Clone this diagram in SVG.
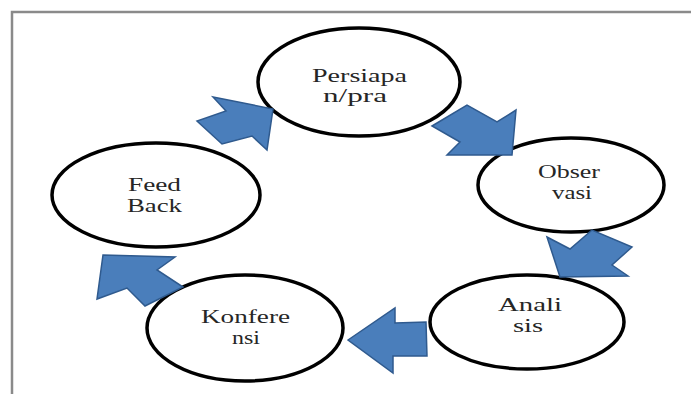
<svg xmlns="http://www.w3.org/2000/svg" width="691" height="394" viewBox="0 0 691 394">
  <style>
    .node ellipse { fill: #ffffff; stroke: #000000; stroke-width: 3.5; }
    .node text { font-family: "Liberation Serif", "DejaVu Serif", serif; font-size: 18px; fill: #262626; }
    .arrow { fill: #4a7ebb; stroke: #2f5a8e; stroke-width: 1.5; stroke-linejoin: miter; }
    .frame { fill: none; stroke: #8a8a8a; stroke-width: 2.5; }
  </style>
  <rect x="0" y="0" width="691" height="394" fill="#ffffff"/>
  <rect class="frame" x="12" y="12" width="700" height="400"/>

  <g id="node-persiapan" class="node">
    <ellipse cx="359" cy="82" rx="101" ry="54"/>
    <text x="312" y="82" textLength="95" lengthAdjust="spacingAndGlyphs">Persiapa</text>
    <text x="323" y="102" textLength="64" lengthAdjust="spacingAndGlyphs">n/pra</text>
  </g>
  <g id="node-observasi" class="node">
    <ellipse cx="571" cy="185" rx="93" ry="47"/>
    <text x="538" y="178" textLength="62" lengthAdjust="spacingAndGlyphs">Obser</text>
    <text x="552" y="199" textLength="40" lengthAdjust="spacingAndGlyphs">vasi</text>
  </g>
  <g id="node-analisis" class="node">
    <ellipse cx="527" cy="322" rx="97" ry="47"/>
    <text x="498" y="311" textLength="64" lengthAdjust="spacingAndGlyphs">Anali</text>
    <text x="513" y="332" textLength="30" lengthAdjust="spacingAndGlyphs">sis</text>
  </g>
  <g id="node-konferensi" class="node">
    <ellipse cx="245" cy="328" rx="98" ry="53"/>
    <text x="201" y="323" textLength="89" lengthAdjust="spacingAndGlyphs">Konfere</text>
    <text x="232" y="344" textLength="28" lengthAdjust="spacingAndGlyphs">nsi</text>
  </g>
  <g id="node-feedback" class="node">
    <ellipse cx="156" cy="195" rx="104" ry="52"/>
    <text x="128" y="191" textLength="53" lengthAdjust="spacingAndGlyphs">Feed</text>
    <text x="127" y="212" textLength="55" lengthAdjust="spacingAndGlyphs">Back</text>
  </g>

  <g id="connectors">
    <polygon class="arrow" points="213,97 273,109 267,150 252,136 222,144 197,121 226,111"/>
    <polygon class="arrow" points="432,126 467,105 497,122 516,110 512,155 447,155 460,142"/>
    <polygon class="arrow" points="547,237 570,249 592,230 632,247 612,265 628,276 560,277"/>
    <polygon class="arrow" points="348,340 395,308 395,323 426,322 427,356 393,356 393,373"/>
    <polygon class="arrow" points="103,255 175,257 157,270 183,287 145,306 127,288 97,299"/>
  </g>
</svg>
